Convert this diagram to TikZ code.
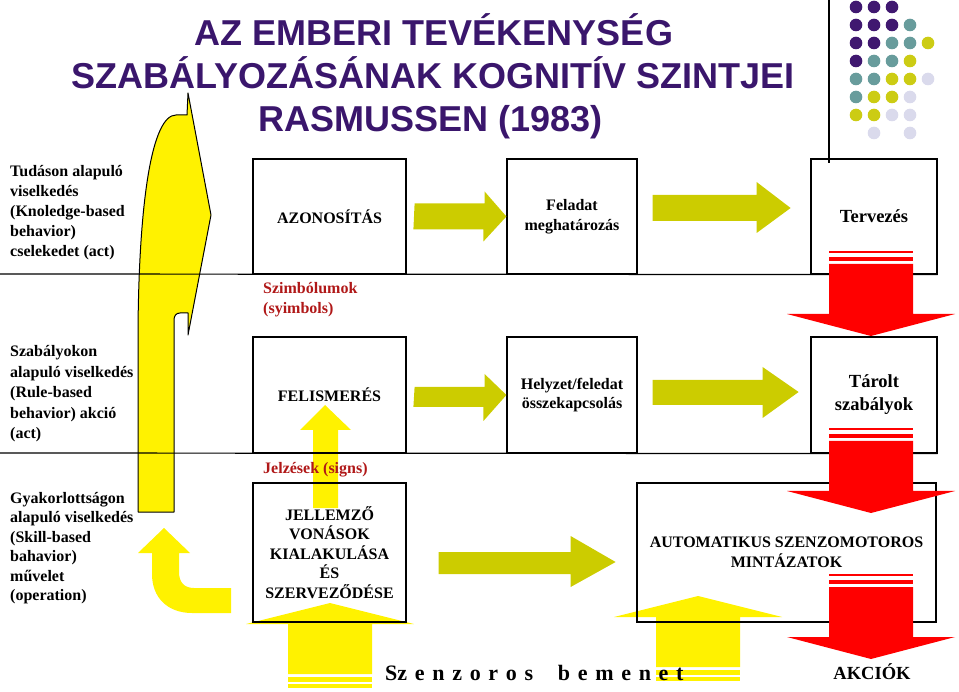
\documentclass[tikz,border=0pt]{standalone}
\usepackage{fontspec}
\setmainfont{Liberation Serif}
\newfontfamily\titlefont{Liberation Sans}
\definecolor{titlepurple}{RGB}{58,22,108}
\definecolor{dotpurple}{RGB}{64,24,112}
\definecolor{dotteal}{RGB}{104,156,156}
\definecolor{dotolive}{RGB}{204,204,20}
\definecolor{dotlilac}{RGB}{218,218,236}
\definecolor{arrowolive}{RGB}{204,204,0}
\definecolor{labelred}{RGB}{176,24,24}

\begin{document}
\begin{tikzpicture}[x=1pt,y=-1pt,
  box/.style={draw,line width=1.2pt,inner sep=0pt,align=center,font=\bfseries\fontsize{16}{19.5}\selectfont},
  bigbox/.style={box,font=\bfseries\fontsize{18.5}{23}\selectfont},
  sidetext/.style={anchor=west,inner sep=0pt,align=left,font=\bfseries\fontsize{16}{20}\selectfont},
  redlabel/.style={sidetext,text=labelred},
  heading/.style={anchor=base,inner sep=0pt,text=titlepurple,font=\titlefont\bfseries\fontsize{36}{43}\selectfont}]

  \useasboundingbox (0,0) rectangle (959,692);

  % title
  \node[heading] (title1) at (434,46) {AZ EMBERI TEVÉKENYSÉG};
  \node[heading] (title2) at (433,89) {SZABÁLYOZÁSÁNAK KOGNITÍV SZINTJEI};
  \node[heading] (title3) at (431,132) {RASMUSSEN (1983)};

  % dots in the corner
  \foreach \i/\j/\c in {0/0/dotpurple,1/0/dotpurple,2/0/dotpurple,
      0/1/dotpurple,1/1/dotpurple,2/1/dotpurple,3/1/dotteal,
      0/2/dotpurple,1/2/dotpurple,2/2/dotteal,3/2/dotteal,4/2/dotolive,
      0/3/dotpurple,1/3/dotteal,2/3/dotteal,3/3/dotolive,
      0/4/dotteal,1/4/dotteal,2/4/dotolive,3/4/dotolive,4/4/dotlilac,
      0/5/dotteal,1/5/dotolive,2/5/dotolive,3/5/dotlilac,
      0/6/dotolive,1/6/dotolive,2/6/dotlilac,3/6/dotlilac,
      1/7/dotlilac,3/7/dotlilac}
    \fill[\c] (856+18*\i,7+18*\j) circle (6.3);
  \draw[line width=1.2pt] (829,0) -- (829,163);

  % big yellow arrow on the left
  \filldraw[fill=yellow,line width=1pt,line join=round] (138,512) -- (138,330)
    .. controls (139,200) and (152,115) .. (176,115) -- (187,115) -- (188,93)
    -- (211,215) -- (188,335) -- (188,313) -- (180,313)
    .. controls (176,313) and (174,316) .. (174,320) -- (174,512) -- cycle;
  % bent yellow arrow
  \fill[yellow] (164,528) -- (190,553) -- (179,553) -- (179,572)
    .. controls (179,582) and (184,588) .. (194,588) -- (231,588) -- (231,613)
    -- (192,613) .. controls (168,613) and (152,598) .. (152,574)
    -- (152,553) -- (138,553) -- cycle;
  % yellow arrow up into FELISMERES
  \fill[yellow] (313,508) -- (313,430) -- (300,430) -- (325,405) -- (351,430)
    -- (338,430) -- (338,508) -- cycle;
  % sensor input arrows
  \foreach \x/\y in {330/624,698/617} {
    \fill[yellow] (\x-42,\y+60) rectangle (\x+42,\y+64);
    \fill[yellow] (\x-42,\y+53) rectangle (\x+42,\y+58);
    \fill[yellow] (\x-42,\y+50) -- (\x-42,\y) -- (\x-84,\y) -- (\x,\y-21)
      -- (\x+84,\y) -- (\x+42,\y) -- (\x+42,\y+50) -- cycle;
  }

  % boxes
  \node[box,minimum width=153,minimum height=115] (azon) at (329.5,216.5) {AZONOSÍTÁS};
  \node[box,minimum width=130,minimum height=115] (felad) at (572,216.5) {Feladat\\meghatározás};
  \node[bigbox,minimum width=126,minimum height=115] (terv) at (874,216.5) {Tervezés};
  \node[box,minimum width=153,minimum height=116] (felism) at (329.5,395) {FELISMERÉS};
  \node[box,minimum width=130,minimum height=116] (helyzet) at (572,395) {Helyzet/feledat\\összekapcsolás};
  \node[bigbox,minimum width=126,minimum height=116] (tarolt) at (874,395) {Tárolt\\szabályok};
  \node[box,minimum width=153,minimum height=139] (jellem) at (329.5,552.5)
    {JELLEMZŐ\\VONÁSOK\\KIALAKULÁSA\\ÉS\\SZERVEZŐDÉSE};
  \node[box,minimum width=299,minimum height=139] (auto) at (786.5,552.5)
    {AUTOMATIKUS SZENZOMOTOROS\\MINTÁZATOK};

  \draw[line width=1.2pt] (0,274) -- (terv.south east);
  \draw[line width=1.2pt] (0,453) -- (tarolt.south east);

  % olive arrows
  \fill[arrowolive] (azon.east) ++(8,-13) -- ++(70,0) -- ++(0,-12) -- (felad.west)
    -- ++(-23,25) -- ++(0,-12) -- ++(-70,0) -- cycle;
  \fill[arrowolive] (felad.east) ++(15,-21.5) -- ++(104,0) -- ++(0,-13) -- ++(34,26)
    -- ++(-34,25) -- ++(0,-12) -- ++(-104,0) -- cycle;
  \fill[arrowolive] (felism.east) ++(8,-8) -- ++(70,0) -- ++(0,-13) -- (helyzet.west)
    -- ++(-23,26) -- ++(0,-14) -- ++(-70,0) -- cycle;
  \fill[arrowolive] (helyzet.east) ++(15,-15) -- ++(110,0) -- ++(0,-13) -- ++(36,25)
    -- ++(-36,26) -- ++(0,-13) -- ++(-110,0) -- cycle;
  \fill[arrowolive] (jellem.east) ++(32,-0.5) -- ++(132,0) -- ++(0,-16) -- ++(45,26)
    -- ++(-45,25) -- ++(0,-13) -- ++(-132,0) -- cycle;

  % red arrows
  \foreach \y in {251,428,574} {
    \fill[red] (829,\y) rectangle (913,\y+2);
    \fill[red] (829,\y+6) rectangle (913,\y+10);
    \fill[red] (829,\y+13) -- (913,\y+13) -- (913,\y+63) -- (955,\y+63)
      -- (871,\y+85) -- (787,\y+63) -- (829,\y+63) -- cycle;
  }

  % level labels
  \node[sidetext] (tudas) at (10,212.5)
    {Tudáson alapuló\\viselkedés\\(Knoledge-based\\behavior)\\cselekedet (act)};
  \node[sidetext,font=\bfseries\fontsize{16}{20.5}\selectfont] (szabaly) at (10,394)
    {Szabályokon\\alapuló viselkedés\\(Rule-based\\behavior) akció\\(act)};
  \node[sidetext,font=\bfseries\fontsize{16}{19.5}\selectfont] (gyakor) at (10,548)
    {Gyakorlottságon\\alapuló viselkedés\\(Skill-based\\bahavior)\\művelet\\(operation)};

  \node[redlabel] (szimb) at (263,300) {Szimbólumok\\(syimbols)};
  \node[redlabel] (jelz) at (263,470) {Jelzések (signs)};

  \node[anchor=base west,inner sep=0pt,font=\bfseries\fontsize{22}{26}\selectfont] (bemenet) at (385,680)
    {\spaceskip=7.7pt\relax Sz e n z o r o s\hspace{17pt} b e m e n e t};
  \node[anchor=base,inner sep=0pt,font=\bfseries\fontsize{18.5}{22}\selectfont] (akcio) at (872,679) {AKCIÓK};
\end{tikzpicture}
\end{document}
